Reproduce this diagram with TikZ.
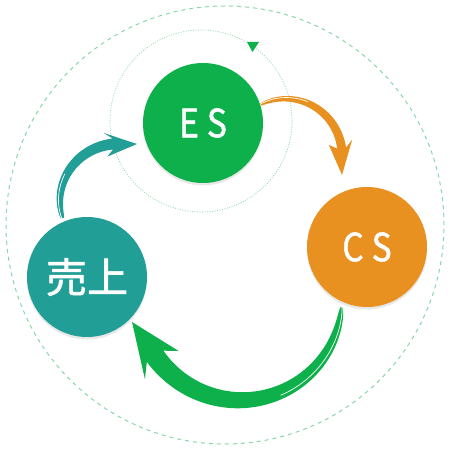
\documentclass[tikz,border=0pt]{standalone}
\usepackage{fontspec}
\newfontfamily\cjk[FakeBold=1.2,FakeStretch=0.86]{Noto Sans CJK JP}
\newfontfamily\cjkb[FakeBold=1.5]{Noto Sans CJK JP}
\usetikzlibrary{shadows}
\definecolor{esgreen}{HTML}{0DB04B}
\definecolor{csorange}{HTML}{E89020}
\definecolor{uteal}{HTML}{219E95}
\definecolor{lgreen}{HTML}{86D9A6}
\tikzset{
  bubble/.style={circle,minimum size=120pt,inner sep=0pt,text=white,
    drop shadow={opacity=0.18,shadow xshift=0pt,shadow yshift=-2.5pt}},
  latin/.style={font=\cjk\fontsize{39}{40}\selectfont},
  kanji/.style={font=\cjkb\fontsize{41}{42}\selectfont},
}
% tapered arc arrow, parameters in macros
\newcommand\taper[1]{%
  \pgfmathsetmacro\dA{\aB-\aA}%
  \fill[#1] plot[domain=\aA:\aB,samples=60]
    ({\cx+(\RA+(\RB-\RA)*(\x-\aA)/\dA+(\wA+(\wB-\wA)*sqrt((\x-\aA)/\dA))/2)*cos(\x)},
     {\cy+(\RA+(\RB-\RA)*(\x-\aA)/\dA+(\wA+(\wB-\wA)*sqrt((\x-\aA)/\dA))/2)*sin(\x)})
    -- ({\cx+(\RB+\hw)*cos(\aB+\sw)},{\cy+(\RB+\hw)*sin(\aB+\sw)})
    -- (tip)
    -- ({\cx+(\RB-\hw)*cos(\aB+\sw)},{\cy+(\RB-\hw)*sin(\aB+\sw)})
    -- plot[domain=\aB:\aA,samples=60]
    ({\cx+(\RA+(\RB-\RA)*(\x-\aA)/\dA-(\wA+(\wB-\wA)*sqrt((\x-\aA)/\dA))/2)*cos(\x)},
     {\cy+(\RA+(\RB-\RA)*(\x-\aA)/\dA-(\wA+(\wB-\wA)*sqrt((\x-\aA)/\dA))/2)*sin(\x)})
    -- cycle;
  \pgfmathsetmacro\aM{\aA+0.45*\dA}%
  \draw[white,line width=0.7pt] plot[domain=\aA:\aM,samples=30]
    ({\cx+(\RA+(\RB-\RA)*(\x-\aA)/\dA+0.22*(\wA+(\wB-\wA)*sqrt((\x-\aA)/\dA)))*cos(\x)},
     {\cy+(\RA+(\RB-\RA)*(\x-\aA)/\dA+0.22*(\wA+(\wB-\wA)*sqrt((\x-\aA)/\dA)))*sin(\x)});
}
\begin{document}
\begin{tikzpicture}[x=1pt,y=1pt]
\useasboundingbox (0,0) rectangle (450,450);
% outer dashed ring
\draw[lgreen,line width=1pt,dash pattern=on 4pt off 4pt] (225,225) circle (219);
% inner dotted ring
\draw[lgreen,line width=0.7pt,dash pattern=on 1pt off 1.5pt] (201,329) circle (91);
\fill[esgreen] (247,408) -- (259,408) -- (252.5,398) -- cycle;
% nodes
\node[bubble,fill=esgreen,latin] (es) at (203,327) {E\hspace{8pt}S};
\node[bubble,fill=csorange,latin] (cs) at (367,203) {C\hspace{8pt}S};
\node[bubble,fill=uteal,kanji] (ur) at (87,173) {売上};
% orange arrow ES -> CS
\coordinate (tip) at (342,275);
\def\cx{285}\def\cy{295}\def\RA{56}\def\RB{57}\def\aA{116}\def\aB{7}
\def\wA{2}\def\wB{9}\def\hw{12}\def\sw{6}
\taper{csorange}
% green arrow CS -> ur
\coordinate (tip) at (132,128);
\def\cx{243}\def\cy{153}\def\RA{99}\def\RB{106}\def\aA{-6}\def\aB{-146}
\def\wA{2}\def\wB{20}\def\hw{22}\def\sw{6}
\taper{esgreen}
% teal arrow ur -> ES
\coordinate (tip) at (137,306);
\def\cx{115}\def\cy{245}\def\RA{54}\def\RB{61}\def\aA{194}\def\aB{92}
\def\wA{3}\def\wB{11}\def\hw{12}\def\sw{7}
\taper{uteal}
\end{tikzpicture}
\end{document}
